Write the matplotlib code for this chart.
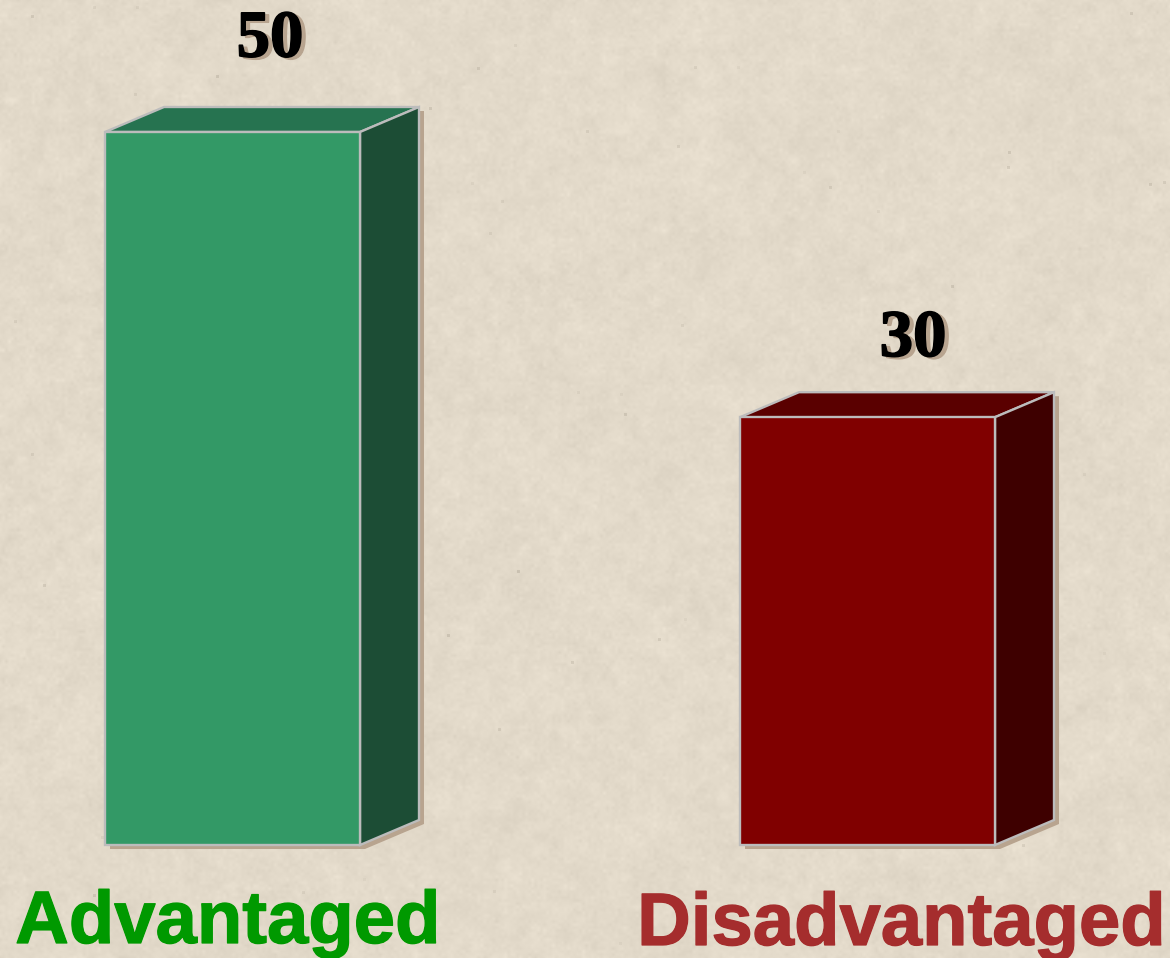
from matplotlib import pyplot as plt
from matplotlib import patheffects as pe
import numpy as np

categories = ["Advantaged", "Disadvantaged"]
values = [50, 30]
front_colors = ["#339966", "#800000"]
top_colors = ["#267350", "#5a0000"]
side_colors = ["#1c4d35", "#3e0000"]
label_colors = ["#009900", "#a52d2d"]

W, H = 1170, 958
PX_PER_X = 635.0
PX_PER_Y = 14.26
DEPTH_X = 59 / PX_PER_X
DEPTH_Y = 25 / PX_PER_Y
BAR_W = 255 / PX_PER_X
EDGE = "#bcbcbc"
SHADOW = "#b8a48f"


def make_background():
    # paper texture, only decoration behind the chart
    rng = np.random.default_rng(3)
    img = np.zeros((H, W))
    for size, amp in [(40, 1.5), (10, 2.0), (3, 2.0)]:
        coarse = rng.normal(0, 1, (H // size + 2, W // size + 2))
        yi = np.linspace(0, coarse.shape[0] - 1.001, H)
        xi = np.linspace(0, coarse.shape[1] - 1.001, W)
        y0, x0 = yi.astype(int), xi.astype(int)
        fy, fx = (yi - y0)[:, None], (xi - x0)[None, :]
        layer = (coarse[y0][:, x0] * (1 - fy) * (1 - fx)
                 + coarse[y0 + 1][:, x0] * fy * (1 - fx)
                 + coarse[y0][:, x0 + 1] * (1 - fy) * fx
                 + coarse[y0 + 1][:, x0 + 1] * fy * fx)
        img += layer * amp
    # a few dark specks
    for _ in range(90):
        py, px = rng.integers(0, H - 3), rng.integers(0, W - 3)
        img[py:py + 3, px:px + 3] -= rng.uniform(6, 22)
    base = np.array([227, 218, 202], dtype=float)
    rgb = base[None, None, :] + img[:, :, None]
    return np.clip(rgb / 255.0, 0, 1)


fig = plt.figure(figsize=(W / 100, H / 100), dpi=100)
fig.figimage(make_background(), 0, 0, zorder=-1)

ax = fig.add_axes([0, 0, 1, 1])
ax.patch.set_alpha(0)
ax.set_xlim(-232.5 / PX_PER_X, (W - 232.5) / PX_PER_X)
ax.set_ylim(-(H - 845) / PX_PER_Y, 845 / PX_PER_Y)
ax.axis("off")

xs = np.arange(len(values))
value_dx = [37.5 / PX_PER_X, 45.5 / PX_PER_X]
value_dy = [788.5 / PX_PER_Y - 50, 489 / PX_PER_Y - 30]
label_dx = [-5 / PX_PER_X, 33.5 / PX_PER_X]
label_base = [-98 / PX_PER_Y, -100 / PX_PER_Y]

for x, v, fc, tc, sc in zip(xs, values, front_colors, top_colors, side_colors):
    l, r = x - BAR_W / 2, x + BAR_W / 2
    # drop shadow of the whole block
    sx, sy = 5 / PX_PER_X, -4 / PX_PER_Y
    ax.fill([l + sx, r + sx, r + DEPTH_X + sx, r + DEPTH_X + sx, l + DEPTH_X + sx, l + sx],
            [sy, sy, DEPTH_Y + sy, v + DEPTH_Y + sy, v + DEPTH_Y + sy, v + sy],
            color=SHADOW, lw=0, zorder=1)
    ax.fill([l, r, r + DEPTH_X, l + DEPTH_X], [v, v, v + DEPTH_Y, v + DEPTH_Y],
            fc=tc, ec=EDGE, lw=1.7, zorder=2, joinstyle="miter")
    ax.fill([r, r + DEPTH_X, r + DEPTH_X, r], [0, DEPTH_Y, v + DEPTH_Y, v],
            fc=sc, ec=EDGE, lw=1.7, zorder=2, joinstyle="miter")

ax.bar(xs, values, width=BAR_W, color=front_colors, edgecolor=EDGE, linewidth=1.7, zorder=3)

# the source's digits are heavier than Liberation Serif bold
text_shadow = [pe.withStroke(linewidth=1.2, foreground=SHADOW, offset=(3, -1.5)),
               pe.SimplePatchShadow(offset=(3, -1.5), shadow_rgbFace=SHADOW, alpha=1),
               pe.withStroke(linewidth=1.2, foreground="black")]
label_stroke = [pe.withStroke(linewidth=0.9, foreground=c) for c in label_colors]
for i, v in enumerate(values):
    ax.text(xs[i] + value_dx[i], v + value_dy[i], str(v), color="black", fontsize=48,
            fontweight="bold", family="Liberation Serif", ha="center", va="baseline",
            zorder=5, path_effects=text_shadow)
    ax.text(xs[i] + label_dx[i], label_base[i], categories[i], color=label_colors[i], fontsize=53.5,
            fontweight="bold", family="Liberation Sans", ha="center", va="baseline",
            zorder=5, path_effects=[label_stroke[i]])

fig.savefig("out.png", dpi=100)
